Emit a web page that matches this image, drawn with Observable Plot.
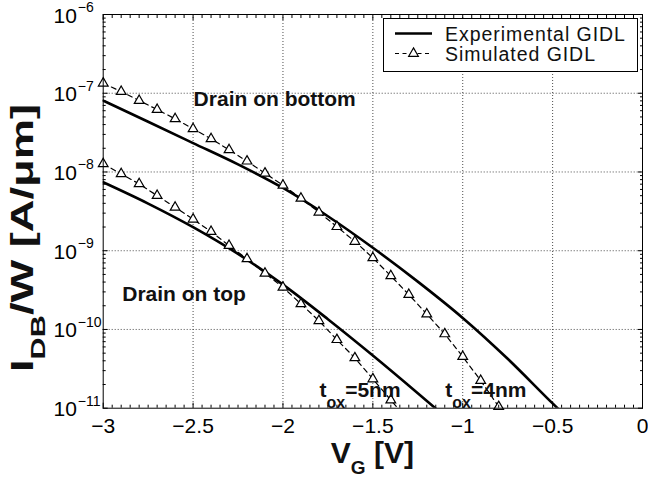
<!DOCTYPE html>
<html><head><meta charset="utf-8">
<script src="https://cdn.jsdelivr.net/npm/d3@7"></script>
<script src="https://cdn.jsdelivr.net/npm/@observablehq/plot@0.6"></script>
<style>
body{margin:0;background:#fff;}
#chart svg{display:block;}
</style></head><body><div id="chart"></div>
<script>
// ---- data ----
const vgSimBottom = [-3.0,-2.9,-2.8,-2.7,-2.6,-2.5,-2.4,-2.3,-2.2,-2.1,-2.0,-1.9,-1.8,-1.7,-1.6,-1.5,-1.4,-1.3,-1.2,-1.1,-1.0,-0.9,-0.8];
const idbSimBottom = [1.34e-7,1.05e-7,8.07e-8,6.21e-8,4.73e-8,3.53e-8,2.64e-8,1.91e-8,1.37e-8,9.64e-9,6.76e-9,4.63e-9,3.08e-9,2.02e-9,1.31e-9,8.11e-10,4.79e-10,2.77e-10,1.57e-10,8.77e-11,4.52e-11,2.24e-11,1.045e-11];
const vgSimTop = [-3.0,-2.9,-2.8,-2.7,-2.6,-2.5,-2.4,-2.3,-2.2,-2.1,-2.0,-1.9,-1.8,-1.7,-1.6,-1.5,-1.4,-1.3];
const idbSimTop = [1.27e-8,9.46e-9,7.06e-9,5.01e-9,3.56e-9,2.51e-9,1.75e-9,1.16e-9,7.87e-10,5.16e-10,3.43e-10,2.11e-10,1.29e-10,7.41e-11,4.35e-11,2.35e-11,1.27e-11,6.8e-12];
const vgExpBottom = [-3,-2.75,-2.5,-2.25,-2,-1.75,-1.5,-1.25,-1,-0.75,-0.5,-0.45];
const idbExpBottom = [8.07e-8,4.34e-8,2.33e-8,1.25e-8,6.26e-9,2.74e-9,1.09e-9,4.05e-10,1.40e-10,4.24e-11,1.15e-11,8.9e-12];
const vgExpTop = [-3,-2.75,-2.5,-2.25,-2,-1.75,-1.5,-1.25,-1.1];
const idbExpTop = [7.40e-9,3.97e-9,1.99e-9,9.10e-10,3.71e-10,1.35e-10,4.67e-11,1.55e-11,7.9e-12];

const xTicks = [-3,-2.5,-2,-1.5,-1,-0.5,0];
const yTicks = [1e-11,1e-10,1e-9,1e-8,1e-7,1e-6];
const legendLabels = ["Experimental GIDL","Simulated GIDL"];
const regionLabels = ["Drain on bottom","Drain on top"];
const regionVg = [-2.497,-2.894];
const regionIdb = [6.98e-8,2.32e-10];
const toxValues = ["5nm","4nm"];
const toxVg = [-1.794,-1.094];
const toxIdb = [1.37e-11,1.37e-11];

// ---- build tables ----
const rows = (xs, ys) => xs.map((v,i)=>({vg:v, idb:ys[i]}));
const simBottom = rows(vgSimBottom, idbSimBottom);
const simTop = rows(vgSimTop, idbSimTop);
const expBottom = rows(vgExpBottom, idbExpBottom);
const expTop = rows(vgExpTop, idbExpTop);
const inFrame = d => d.idb >= 1e-11;
const annotations = regionLabels.map((t,i)=>({text:t, vg:regionVg[i], idb:regionIdb[i]}));

const xMinor = d3.range(-60,1).filter(i=>i%10!==0).map(i=>i/20);
const yMinor = [];
for (let e=-11;e<=-7;e++) for (let k=2;k<=9;k++) yMinor.push(k*Math.pow(10,e));

const fontFamily = "'Liberation Sans', Arial, Helvetica, sans-serif";
const fmtX = d => d===0 ? "0" : (d<0?"\u2212":"") + Math.abs(d);
const gridStyle = {stroke:"#222", strokeOpacity:0.8, strokeDasharray:"1,2"};
const symR = 3.6;

const plot = Plot.plot({
  width:648, height:478,
  marginLeft:102.7, marginRight:6, marginTop:14, marginBottom:70.3,
  style:{fontFamily, fontSize:"21px", color:"black", background:"white", overflow:"visible"},
  x:{domain:[-3,0]},
  y:{type:"log", domain:[1e-11,1e-6]},
  marks:[
    Plot.gridX(xTicks.slice(1,-1), gridStyle),
    Plot.gridY(yTicks.slice(1,-1), gridStyle),
    Plot.line(expBottom, {x:"vg", y:"idb", stroke:"black", strokeWidth:2.6, curve:"monotone-x", clip:true}),
    Plot.line(expTop, {x:"vg", y:"idb", stroke:"black", strokeWidth:2.6, curve:"monotone-x", clip:true}),
    Plot.line(simBottom, {x:"vg", y:"idb", stroke:"black", strokeWidth:1.2, strokeDasharray:"5,4", clip:true}),
    Plot.line(simTop, {x:"vg", y:"idb", stroke:"black", strokeWidth:1.2, strokeDasharray:"5,4", clip:true}),
    Plot.dot(simBottom.filter(inFrame), {x:"vg", y:"idb", symbol:"triangle", r:symR, stroke:"black", fill:"white", strokeWidth:1.2}),
    Plot.dot(simTop.filter(inFrame), {x:"vg", y:"idb", symbol:"triangle", r:symR, stroke:"black", fill:"white", strokeWidth:1.2}),
    Plot.text(annotations, {x:"vg", y:"idb", text:"text", textAnchor:"start", lineAnchor:"bottom", fontSize:21, fontWeight:"bold", fill:"#111"}),
    Plot.frame({stroke:"black", strokeWidth:1}),
    Plot.axisX(xTicks, {anchor:"bottom", tickSize:0, tickPadding:10, fontSize:21, tickFormat:fmtX, label:null}),
    Plot.axisX(xTicks, {anchor:"bottom", tickSize:-5, fill:"none", label:null}),
    Plot.axisX(xMinor, {anchor:"bottom", tickSize:-3, fill:"none", label:null}),
    Plot.axisX(xTicks, {anchor:"top", tickSize:-5, fill:"none", label:null}),
    Plot.axisX(xMinor, {anchor:"top", tickSize:-3, fill:"none", label:null}),
    Plot.axisY(yTicks, {anchor:"left", tickSize:0, tickPadding:49.7, textAnchor:"start", fontSize:21, tickFormat:d=>"10^"+Math.round(Math.log10(d)), label:null}),
    Plot.axisY(yTicks, {anchor:"left", tickSize:-5, fill:"none", label:null}),
    Plot.axisY(yMinor, {anchor:"left", tickSize:-3, fill:"none", label:null}),
    Plot.axisY(yTicks, {anchor:"right", tickSize:-5, fill:"none", label:null}),
    Plot.axisY(yMinor, {anchor:"right", tickSize:-3, fill:"none", label:null})
  ]
});
document.getElementById("chart").appendChild(plot);

const svg = d3.select(plot.tagName.toLowerCase()==="svg" ? plot : plot.querySelector("svg"));
const xs = plot.scale("x"), ys = plot.scale("y");

// superscript exponents on y tick labels
svg.selectAll('g[aria-label="y-axis tick label"] text').each(function(){
  const parts = this.textContent.split("^");
  if (parts.length < 2) return;
  const t = d3.select(this);
  t.text(null).attr("y", 8);
  t.append("tspan").text(parts[0]);
  t.append("tspan").attr("dy", -10.5).attr("dx", 1).attr("font-size", 14).text(parts[1].replace("-", "\u2212"));
});

// axis titles
const xt = svg.append("text").attr("x", (102.7+642)/2).attr("y", 463)
  .attr("text-anchor","middle").attr("font-size",30).attr("font-weight","bold").attr("fill","#111");
xt.append("tspan").text("V");
xt.append("tspan").attr("dy",11).attr("font-size",19).text("G");
xt.append("tspan").attr("dy",-11).text(" [V]");

const yt = svg.append("text").attr("transform","translate(33,238) rotate(-90)")
  .attr("text-anchor","middle").attr("font-size",31).attr("font-weight","bold")
  .attr("textLength",268).attr("lengthAdjust","spacingAndGlyphs").attr("fill","#111");
yt.append("tspan").text("I");
yt.append("tspan").attr("dy",12).attr("font-size",21).text("DB");
yt.append("tspan").attr("dy",-12).text("/W [A/\u03bcm]");

// t_ox labels
toxValues.forEach((v,i)=>{
  const t = svg.append("text").attr("x", xs.apply(toxVg[i])).attr("y", ys.apply(toxIdb[i]))
    .attr("text-anchor","start").attr("font-size",21).attr("font-weight","bold").attr("fill","#111");
  t.append("tspan").text("t");
  t.append("tspan").attr("dy",11).attr("font-size",16).text("ox");
  t.append("tspan").attr("dy",-11).text("=" + v);
});

// legend
const lg = svg.append("g").attr("transform","translate(383.5,18.5)")
  .attr("font-size",19.5).attr("letter-spacing","0.95px").attr("text-anchor","start");
lg.append("rect").attr("width",254).attr("height",53).attr("fill","white").attr("stroke","black");
lg.append("line").attr("x1",11.5).attr("x2",48.5).attr("y1",15).attr("y2",15).attr("stroke","black").attr("stroke-width",2.6);
lg.append("line").attr("x1",11.5).attr("x2",48.5).attr("y1",35).attr("y2",35).attr("stroke","black").attr("stroke-width",1.2).attr("stroke-dasharray","4,3.5");
lg.append("path").attr("d", d3.symbol(d3.symbolTriangle, Math.PI*symR*symR)()).attr("transform","translate(30,35)")
  .attr("fill","white").attr("stroke","black").attr("stroke-width",1.2);
lg.append("text").attr("x",61.5).attr("y",22.5).attr("fill","#111").text(legendLabels[0]);
lg.append("text").attr("x",61.5).attr("y",42).attr("fill","#111").text(legendLabels[1]);
</script>
</body></html>
